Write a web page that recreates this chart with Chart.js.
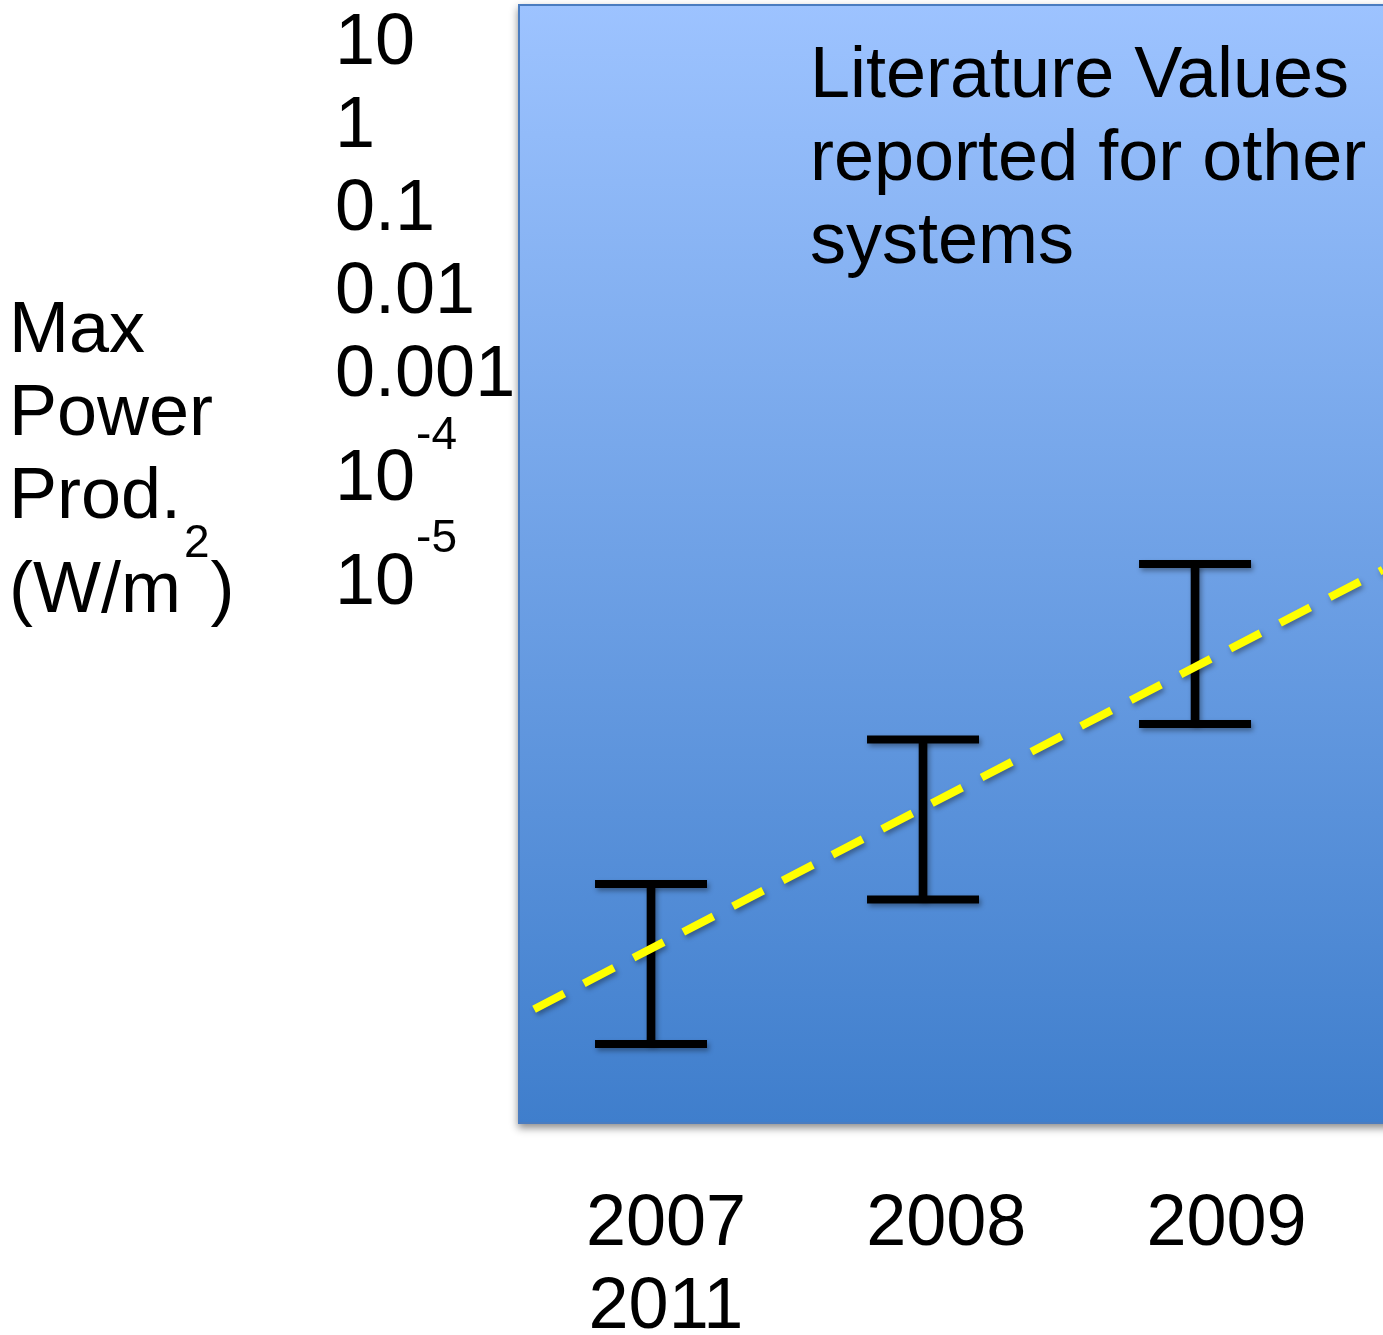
<!DOCTYPE html>
<html>
<head>
<meta charset="utf-8">
<script src="https://cdn.jsdelivr.net/npm/chart.js@4"></script>
<style>
  html, body { margin: 0; padding: 0; background: #ffffff; }
  #wrap { width: 1383px; height: 1335px; position: relative; }
</style>
</head>
<body>
<div id="wrap"><canvas id="c"></canvas></div>
<script>
// ---- data ----
const xTickYears = [2007, 2008, 2009];
const xTickLabels = ['2007', '2008', '2009'];
const xWrapLabel = '2011';
const yTickLabels = ['10', '1', '0.1', '0.01', '0.001', '10', '10'];
const yTickExps = ['', '', '', '', '', '-4', '-5'];
const barYears = [2007, 2008, 2009];
const barLow = [1e-5, 8e-5, 1e-3];
const barHigh = [1e-4, 8e-4, 1e-2];
const trendX = [2006.57, 2009.69];
const trendY = [1.65e-5, 9.2e-3];
const yTitleLines = ['Max', 'Power', 'Prod.', '(W/m'];
const yTitleSup = '2';
const yTitleEnd = ')';
const noteLines = ['Literature Values', 'reported for other', 'systems'];

// label positions in "text lines" (superscript lines are taller)
let acc = 0;
const yTickLines = yTickLabels.map((l, i) => {
  if (i > 0) acc += yTickExps[i] ? 1.25 : 1;
  return acc;
});

const FONT = "'Liberation Sans', Arial, sans-serif";
const BIG = 72;
const SUP = 46;

const panelPlugin = {
  id: 'panel',
  beforeDraw(chart) {
    const { ctx, chartArea: a } = chart;
    ctx.save();
    const g = ctx.createLinearGradient(0, a.top, 0, a.bottom);
    g.addColorStop(0, '#9dc3ff');
    g.addColorStop(1, '#3f7ecc');
    ctx.shadowColor = 'rgba(0,0,0,0.45)';
    ctx.shadowBlur = 8;
    ctx.shadowOffsetY = 4;
    ctx.fillStyle = g;
    ctx.fillRect(a.left, a.top, a.right - a.left + 20, a.bottom - a.top);
    ctx.shadowColor = 'transparent';
    ctx.strokeStyle = '#4a7cc0';
    ctx.lineWidth = 2;
    ctx.strokeRect(a.left + 1, a.top + 1, a.right - a.left + 20, a.bottom - a.top - 2);
    ctx.restore();
  },
  beforeDatasetsDraw(chart) {
    const ctx = chart.ctx;
    ctx.save();
    ctx.shadowColor = 'rgba(0,0,0,0.35)';
    ctx.shadowBlur = 5;
    ctx.shadowOffsetX = 2;
    ctx.shadowOffsetY = 3;
  },
  afterDatasetsDraw(chart) {
    chart.ctx.restore();
  },
  afterDraw(chart) {
    const { ctx, chartArea: a } = chart;
    ctx.save();
    ctx.fillStyle = '#000';
    // superscripts on tick labels
    const yl = chart.scales.yl;
    const supFont = SUP + 'px ' + FONT;
    yl.ticks.forEach((t, i) => {
      if (!yTickExps[i]) return;
      ctx.font = BIG + 'px ' + FONT;
      const w = ctx.measureText(yTickLabels[i]).width;
      const py = yl.getPixelForValue(t.value);
      ctx.font = supFont;
      ctx.textAlign = 'left';
      ctx.textBaseline = 'middle';
      ctx.fillText(yTickExps[i], yl.left + w + 1, py - 44);
    });
    // axis title (left, horizontal lines)
    ctx.textBaseline = 'alphabetic';
    ctx.textAlign = 'left';
    const tx = 9;
    const baseY = 352, lh = 83;
    yTitleLines.forEach((s, i) => {
      ctx.font = BIG + 'px ' + FONT;
      const y = i < 3 ? baseY + i * lh : baseY + 2 * lh + 94;
      ctx.fillText(s, tx, y);
      if (i === yTitleLines.length - 1) {
        const w = ctx.measureText(s).width;
        ctx.font = supFont;
        ctx.fillText(yTitleSup, tx + w + 3, y - 55);
        const ws = ctx.measureText(yTitleSup).width;
        ctx.font = BIG + 'px ' + FONT;
        ctx.fillText(yTitleEnd, tx + w + 3 + ws + 1, y);
      }
    });
    // annotation inside the panel
    ctx.font = BIG + 'px ' + FONT;
    noteLines.forEach((s, i) => {
      ctx.fillText(s, a.left + 292, 97 + i * 83);
    });
    ctx.restore();
  }
};

const stemData = barYears.map((x, i) => ({ x: x, y: [barLow[i], barHigh[i]] }));
const capData = [];
barYears.forEach((x, i) => {
  capData.push({ x: x, y: barLow[i] });
  capData.push({ x: x, y: barHigh[i] });
});
const trendData = trendX.map((x, i) => ({ x: x, y: trendY[i] }));

new Chart(document.getElementById('c'), {
  type: 'scatter',
  data: {
    datasets: [
      {
        type: 'line',
        label: 'trend',
        data: trendData,
        xAxisID: 'x', yAxisID: 'y',
        borderColor: '#ffff00',
        borderWidth: 8,
        borderDash: [34, 22],
        borderCapStyle: 'butt',
        pointRadius: 0,
        fill: false,
        order: 0
      },
      {
        type: 'scatter',
        label: 'caps',
        data: capData,
        xAxisID: 'x', yAxisID: 'y',
        pointStyle: 'line',
        pointRadius: 56,
        pointHoverRadius: 56,
        borderColor: '#000000',
        backgroundColor: '#000000',
        borderWidth: 8,
        pointBorderWidth: 8,
        showLine: false,
        order: 1
      },
      {
        type: 'bar',
        label: 'range',
        data: stemData,
        xAxisID: 'x', yAxisID: 'y',
        backgroundColor: '#000000',
        borderWidth: 0,
        barThickness: 8,
        order: 2
      }
    ]
  },
  plugins: [panelPlugin],
  options: {
    responsive: true,
    maintainAspectRatio: false,
    animation: false,
    events: [],
    layout: { autoPadding: false, padding: { left: 335, top: 4, right: 0, bottom: 0 } },
    plugins: { legend: { display: false }, tooltip: { enabled: false }, title: { display: false } },
    scales: {
      x: {
        type: 'linear', display: false, offset: false,
        min: 2006.511, max: 2009.691
      },
      y: {
        type: 'logarithmic', display: false,
        min: Math.pow(10, -5.5), max: Math.pow(10, 1.5)
      },
      xl: {
        type: 'linear', position: 'bottom', offset: false,
        min: 2006.472, max: 2009.5585,
        grid: { display: false, drawTicks: false },
        border: { display: false },
        afterBuildTicks(s) { s.ticks = xTickYears.map(v => ({ value: v })); },
        afterFit(s) {
          s.height = 211;
          s.paddingLeft = 0; s.paddingRight = 0; s.paddingTop = 0; s.paddingBottom = 0;
        },
        ticks: {
          autoSkip: false, maxRotation: 0, minRotation: 0, padding: 60,
          color: '#000000',
          font: { family: FONT, size: BIG, lineHeight: 1.153 },
          callback(v, i) { return i === 0 ? [xTickLabels[i], xWrapLabel] : xTickLabels[i]; }
        }
      },
      yl: {
        type: 'linear', position: 'left', reverse: true,
        min: -0.485, max: 13.009,
        grid: { display: false, drawTicks: false },
        border: { display: false },
        afterBuildTicks(s) { s.ticks = yTickLines.map(v => ({ value: v })); },
        afterFit(s) {
          s.width = 183;
          s.paddingLeft = 0; s.paddingRight = 0; s.paddingTop = 0; s.paddingBottom = 0;
        },
        ticks: {
          autoSkip: false, padding: 0, crossAlign: 'far',
          color: '#000000',
          font: { family: FONT, size: BIG, lineHeight: 1.153 },
          callback(v, i) { return yTickLabels[i]; }
        }
      }
    }
  }
});
</script>
</body>
</html>
